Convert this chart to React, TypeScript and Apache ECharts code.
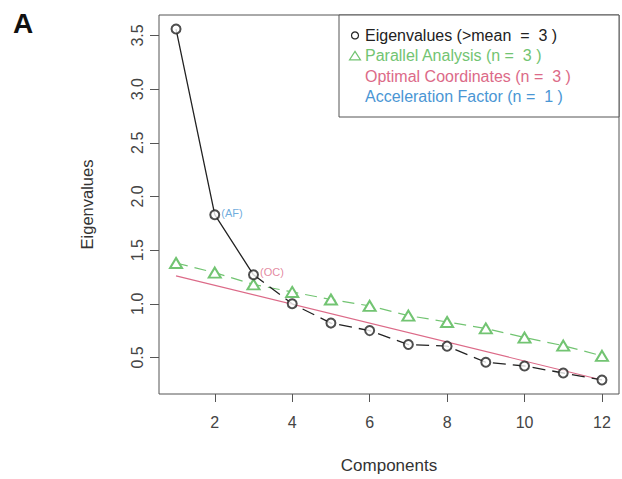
import React, { useEffect, useRef } from "react";
import * as echarts from "echarts";

const components = [1, 2, 3, 4, 5, 6, 7, 8, 9, 10, 11, 12];
const eigenvalues = [3.56, 1.83, 1.27, 1.0, 0.82, 0.75, 0.62, 0.605, 0.455, 0.42, 0.355, 0.29];
const parallelAnalysis = [1.38, 1.29, 1.18, 1.11, 1.04, 0.98, 0.89, 0.83, 0.77, 0.685, 0.61, 0.515];
const ocComponents = [1, 12];
const ocValues = [1.26, 0.29];
const xTicks = [2, 4, 6, 8, 10, 12];
const yTicks = [0.5, 1.0, 1.5, 2.0, 2.5, 3.0, 3.5];
const legendLabels = [
  "Eigenvalues (>mean  =  3 )",
  "Parallel Analysis (n =  3 )",
  "Optimal Coordinates (n =  3 )",
  "Acceleration Factor (n =  1 )",
];
const afComponent = 2;
const ocComponent = 3;
const solidUntil = 3;

const BLACK = "#222222";
const GREEN = "#72c472";
const PINK = "#dc6a88";
const BLUE = "#4a96d4";
const FONT = "'Liberation Sans', Arial, sans-serif";

export default function App() {
  const ref = useRef<HTMLDivElement>(null);
  useEffect(() => {
    if (!ref.current) return;
    const chart = echarts.init(ref.current, undefined, { renderer: "svg" });

    const xr = components[components.length - 1] - components[0];
    const xMin = components[0] - 0.04 * xr;
    const xMax = components[components.length - 1] + 0.04 * xr;
    const eMin = Math.min(...eigenvalues);
    const eMax = Math.max(...eigenvalues);
    const yr = eMax - eMin;
    const yMin = eMin - 0.04 * yr;
    const yMax = eMax + 0.04 * yr;

    const eigPts = components.map((c, i) => [c, eigenvalues[i]]);
    const solidPts = eigPts.filter((p) => p[0] <= solidUntil);
    const dashPts = eigPts.filter((p) => p[0] >= solidUntil);
    const scatterPts = eigPts.map((p) => {
      if (p[0] === afComponent)
        return {
          value: p,
          label: { show: true, formatter: "(AF)", color: BLUE, position: "right", distance: 1, fontSize: 11, fontFamily: FONT, offset: [0, -2] },
        };
      if (p[0] === ocComponent)
        return {
          value: p,
          label: { show: true, formatter: "(OC)", color: PINK, position: "right", distance: 1, fontSize: 11, fontFamily: FONT, offset: [0, -3] },
        };
      return { value: p };
    });

    const rowY = [35.4, 55.8, 76.2, 96.6];
    const legendColors = [BLACK, GREEN, PINK, BLUE];

    const graphic: any[] = [
      {
        type: "text",
        left: 13,
        top: 9,
        style: { text: "A", font: `bold 28px ${FONT}`, fill: "#111" },
      },
      {
        type: "rect",
        shape: { x: 339, y: 15, width: 280, height: 102 },
        style: { fill: "#fff", stroke: "#555", lineWidth: 1 },
        z: 10,
      },
      {
        type: "circle",
        shape: { cx: 355, cy: rowY[0], r: 3.5 },
        style: { fill: "none", stroke: BLACK, lineWidth: 1.2 },
        z: 11,
      },
      {
        type: "polygon",
        shape: { points: [[355, rowY[1] - 4.5], [360.5, rowY[1] + 4], [349.5, rowY[1] + 4]] },
        style: { fill: "none", stroke: GREEN, lineWidth: 1.2 },
        z: 11,
      },
      ...legendLabels.map((t, i) => ({
        type: "text",
        x: 365,
        y: rowY[i],
        z: 11,
        style: {
          text: t,
          fill: legendColors[i],
          font: `16px ${FONT}`,
          verticalAlign: "middle",
          textAlign: "left",
        },
      })),
    ];

    chart.setOption({
      animation: false,
      backgroundColor: "#fff",
      grid: {
        left: 159,
        top: 15,
        width: 460,
        height: 382,
        show: true,
        borderColor: "#555",
        borderWidth: 1,
        backgroundColor: "transparent",
      },
      xAxis: {
        type: "value",
        min: xMin,
        max: xMax,
        name: "Components",
        nameLocation: "middle",
        nameGap: 63,
        nameTextStyle: { fontSize: 17, color: "#333", fontFamily: FONT },
        splitLine: { show: false },
        axisLine: { show: false },
        axisTick: { show: true, inside: false, length: 8, customValues: xTicks, lineStyle: { color: "#555" } },
        axisLabel: { show: true, customValues: xTicks, margin: 20, fontSize: 16, color: "#444", fontFamily: FONT },
      },
      yAxis: {
        type: "value",
        min: yMin,
        max: yMax,
        name: "Eigenvalues",
        nameLocation: "middle",
        nameGap: 64,
        nameTextStyle: { fontSize: 16.5, color: "#333", fontFamily: FONT },
        splitLine: { show: false },
        axisLine: { show: false },
        axisTick: { show: true, inside: false, length: 9, customValues: yTicks, lineStyle: { color: "#555" } },
        axisLabel: {
          show: true,
          customValues: yTicks,
          rotate: 90,
          margin: 14,
          fontSize: 16,
          color: "#444",
          fontFamily: FONT,
          formatter: (v: number) => v.toFixed(1),
        },
      },
      series: [
        {
          type: "line",
          data: ocComponents.map((c, i) => [c, ocValues[i]]),
          symbol: "none",
          lineStyle: { color: PINK, width: 1.2 },
          z: 2,
        },
        {
          type: "line",
          data: components.map((c, i) => [c, parallelAnalysis[i]]),
          symbol: "emptyTriangle",
          symbolSize: [12, 10],
          itemStyle: { color: GREEN, borderWidth: 1.2 },
          lineStyle: { color: GREEN, width: 1.2, type: [12, 7] },
          z: 3,
        },
        {
          type: "line",
          data: solidPts,
          symbol: "none",
          lineStyle: { color: BLACK, width: 1.3 },
          z: 4,
        },
        {
          type: "line",
          data: dashPts,
          symbol: "none",
          lineStyle: { color: BLACK, width: 1.3, type: [13, 7] },
          z: 4,
        },
        {
          type: "scatter",
          data: scatterPts,
          symbol: "emptyCircle",
          symbolSize: 9,
          itemStyle: { color: BLACK, borderWidth: 1.3 },
          z: 5,
        },
      ],
      graphic,
    });
    return () => chart.dispose();
  }, []);

  return (
    <div
      ref={ref}
      style={{ position: "fixed", left: 0, top: 0, width: 622, height: 479, background: "#fff" }}
    />
  );
}
